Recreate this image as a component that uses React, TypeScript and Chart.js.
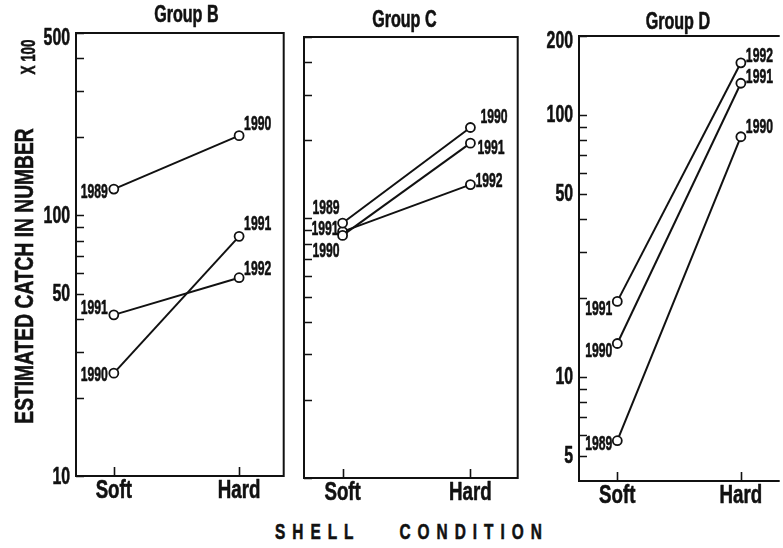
import React, { useEffect, useRef } from 'react';
import { Chart, registerables } from 'chart.js';

Chart.register(...registerables);

const FONT = "'Liberation Sans', Arial, 'DejaVu Sans Condensed', sans-serif";
const INK = '#111';

// ---------- data ----------
const xLabels = ['Soft', 'Hard'];
const panelTitles = ['Group B', 'Group C', 'Group D'];
const softYears = ['1989', '1990', '1991'];
const hardYears = ['1990', '1991', '1992'];

const groupBSoft = [126, 24.8, 41.5];
const groupBHard = [202, 83, 57.6];
const groupCSoft = [96, 86, 89];
const groupCHard = [224, 195, 135];
const groupDSoft = [5.7, 13.4, 19.4];
const groupDHard = [82.5, 132, 158];

const bcTickValues = [10, 20, 30, 40, 50, 60, 70, 80, 90, 100, 200, 300, 400, 500];
const bTickLabels = [10, 50, 100, 500];
const cTickLabels: number[] = [];
const dTickValues = [5, 6, 7, 8, 9, 10, 20, 30, 40, 50, 60, 70, 80, 90, 100, 200];
const dTickLabels = [5, 10, 50, 100, 200];

const yAxisTitle = 'ESTIMATED CATCH IN NUMBER';
const yUnit = 'X 100';
const xAxisTitle = 'SHELL CONDITION';

// ---------- layout / style ----------
type Off = [number, number];
interface PanelCfg {
  title: string;
  soft: number[];
  hard: number[];
  yMin: number;
  yMax: number;
  tickValues: number[];
  tickLabels: number[];
  xMin: number;
  xMax: number;
  left: number;
  w: number;
  h: number;
  axisW: number;
  padR: number;
  padTop: number;
  titleDx: number;
  titleY: number;
  boxRight: boolean;
  softOff: Off[];
  hardOff: Off[];
}

const panels: PanelCfg[] = [
  {
    title: panelTitles[0], soft: groupBSoft, hard: groupBHard,
    yMin: 10, yMax: 500, tickValues: bcTickValues, tickLabels: bTickLabels,
    xMin: -0.302, xMax: 1.356,
    left: 30, w: 260, h: 508, axisW: 46, padR: 5, padTop: 33,
    titleDx: 6.5, titleY: 16, boxRight: true,
    softOff: [[-6, 3], [-6, 2], [-6, -7]],
    hardOff: [[5, -11], [5, -12], [5, -9]],
  },
  {
    title: panelTitles[1], soft: groupCSoft, hard: groupCHard,
    yMin: 10, yMax: 500, tickValues: bcTickValues, tickLabels: cTickLabels,
    xMin: -0.302, xMax: 1.37,
    left: 296, w: 228, h: 510, axisW: 8, padR: 6, padTop: 37,
    titleDx: -6.5, titleY: 21, boxRight: true,
    softOff: [[-3, -15], [-3, 16], [-4, -2]],
    hardOff: [[10, -10], [7, 5], [5, -3]],
  },
  {
    title: panelTitles[2], soft: groupDSoft, hard: groupDHard,
    yMin: 4, yMax: 200, tickValues: dTickValues, tickLabels: dTickLabels,
    xMin: -0.31, xMax: 1.29,
    left: 533, w: 250, h: 513, axisW: 46, padR: 0, padTop: 36,
    titleDx: 0, titleY: 23, boxRight: false,
    softOff: [[-5, 3], [-5, 8], [-5, 8]],
    hardOff: [[5, -10], [5, -6], [5, -7]],
  },
];

function drawText(
  ctx: CanvasRenderingContext2D,
  text: string,
  x: number,
  y: number,
  size: number,
  sx: number,
  align: CanvasTextAlign,
  weight = 'bold'
) {
  ctx.save();
  ctx.translate(x, y);
  ctx.scale(sx, 1);
  ctx.font = `${weight} ${size}px ${FONT}`;
  ctx.textAlign = align;
  ctx.textBaseline = 'middle';
  ctx.fillStyle = INK;
  ctx.strokeStyle = INK;
  ctx.lineWidth = 0.6;
  ctx.lineJoin = 'round';
  ctx.fillText(text, 0, 0);
  ctx.strokeText(text, 0, 0);
  ctx.restore();
}

const framePlugin = {
  id: 'frameAndMarks',
  afterDraw(chart: any) {
    const cfg: PanelCfg = chart.options.plugins.frameAndMarks.cfg;
    const { ctx, chartArea: a } = chart;
    const ys = chart.scales.y;
    const xs = chart.scales.x;
    ctx.save();
    ctx.strokeStyle = INK;
    ctx.lineWidth = 2;
    ctx.lineCap = 'square';
    ctx.beginPath();
    if (cfg.boxRight) {
      ctx.rect(a.left, a.top, a.right - a.left, a.bottom - a.top);
    } else {
      ctx.moveTo(a.right + 2, a.top);
      ctx.lineTo(a.left, a.top);
      ctx.lineTo(a.left, a.bottom);
      ctx.lineTo(a.right + 2, a.bottom);
    }
    ctx.stroke();
    ctx.lineWidth = 1.6;
    ctx.lineCap = 'butt';
    ctx.beginPath();
    ys.ticks.forEach((t: any) => {
      const y = Math.round(ys.getPixelForValue(t.value)) + 0.5;
      ctx.moveTo(a.left, y);
      ctx.lineTo(a.left + 8, y);
    });
    xs.ticks.forEach((t: any) => {
      const x = Math.round(xs.getPixelForValue(t.value)) + 0.5;
      ctx.moveTo(x, a.bottom);
      ctx.lineTo(x, a.bottom - 9);
    });
    ctx.stroke();
    ctx.restore();

    // y tick labels
    ys.ticks.forEach((t: any) => {
      if (!cfg.tickLabels.includes(t.value)) return;
      const y = ys.getPixelForValue(t.value);
      drawText(ctx, String(t.value), a.left - 6, Math.max(y + 1, a.top + 5), 24, 0.66, 'right');
    });
    // x tick labels
    xs.ticks.forEach((t: any) => {
      const x = xs.getPixelForValue(t.value);
      drawText(ctx, xLabels[t.value], x, a.bottom + 15, 26, 0.72, 'center');
    });
    // panel title
    drawText(ctx, cfg.title, (a.left + a.right) / 2 + cfg.titleDx, cfg.titleY, 23, 0.7, 'center');

    // year labels
    chart.data.datasets.forEach((_ds: any, i: number) => {
      const meta = chart.getDatasetMeta(i);
      const p0 = meta.data[0];
      const p1 = meta.data[1];
      const so = cfg.softOff[i];
      const ho = cfg.hardOff[i];
      drawText(ctx, softYears[i], p0.x + so[0], p0.y + so[1], 21, 0.58, 'right');
      drawText(ctx, hardYears[i], p1.x + ho[0], p1.y + ho[1], 21, 0.58, 'left');
    });
  },
};

function PanelChart({ cfg }: { cfg: PanelCfg }) {
  const ref = useRef<HTMLCanvasElement>(null);
  useEffect(() => {
    if (!ref.current) return;
    const datasets = cfg.soft.map((s, i) => ({
      label: `${softYears[i]}-${hardYears[i]}`,
      data: [
        { x: 0, y: s },
        { x: 1, y: cfg.hard[i] },
      ],
      borderColor: INK,
      borderWidth: 2,
      pointRadius: 4.5,
      pointBackgroundColor: '#fff',
      pointBorderColor: INK,
      pointBorderWidth: 1.8,
      tension: 0,
      fill: false,
    }));
    const chart = new Chart(ref.current, {
      type: 'line',
      data: { datasets },
      plugins: [framePlugin],
      options: {
        animation: false,
        responsive: false,
        devicePixelRatio: 1,
        events: [],
        layout: { padding: { left: 0, right: cfg.padR, top: cfg.padTop, bottom: 0 } },
        plugins: {
          legend: { display: false },
          tooltip: { enabled: false },
          title: { display: false },
          frameAndMarks: { cfg },
        } as any,
        scales: {
          x: {
            type: 'linear',
            min: cfg.xMin,
            max: cfg.xMax,
            grid: { display: false },
            border: { display: false },
            afterBuildTicks: (scale: any) => {
              scale.ticks = xLabels.map((_l, i) => ({ value: i }));
            },
            afterFit: (scale: any) => {
              scale.height = 32;
            },
            ticks: { display: false, autoSkip: false },
          },
          y: {
            type: 'logarithmic',
            min: cfg.yMin,
            max: cfg.yMax,
            grid: { display: false },
            border: { display: false },
            afterBuildTicks: (scale: any) => {
              scale.ticks = cfg.tickValues.map((v) => ({ value: v }));
            },
            afterFit: (scale: any) => {
              scale.width = cfg.axisW;
            },
            ticks: { display: false, autoSkip: false },
          },
        },
      } as any,
    });
    return () => chart.destroy();
  }, [cfg]);
  return (
    <canvas
      ref={ref}
      width={cfg.w}
      height={cfg.h}
      style={{ position: 'absolute', left: cfg.left, top: 0, width: cfg.w, height: cfg.h }}
    />
  );
}

const heavy = { WebkitTextStroke: '0.6px #111' } as React.CSSProperties;

export default function App() {
  return (
    <div
      style={{
        position: 'fixed',
        left: 0,
        top: 0,
        width: 783,
        height: 548,
        overflow: 'hidden',
        background: '#fff',
        fontFamily: FONT,
        fontWeight: 'bold',
        color: INK,
      }}
    >
      {panels.map((p) => (
        <PanelChart key={p.title} cfg={p} />
      ))}
      <div
        style={{
          ...heavy,
          position: 'absolute',
          left: 24,
          top: 276,
          transform: 'translate(-50%, -50%) rotate(-90deg) scaleX(0.74)',
          whiteSpace: 'nowrap',
          fontSize: 26,
          lineHeight: 1,
        }}
      >
        {yAxisTitle}
      </div>
      <div
        style={{
          ...heavy,
          position: 'absolute',
          left: 27,
          top: 57,
          transform: 'translate(-50%, -50%) rotate(-90deg) scaleX(0.64)',
          whiteSpace: 'nowrap',
          fontSize: 21,
          lineHeight: 1,
        }}
      >
        {yUnit}
      </div>
      <div
        style={{
          ...heavy,
          position: 'absolute',
          left: 275,
          top: 532,
          transform: 'translateY(-50%) scaleX(0.7)',
          transformOrigin: 'left center',
          whiteSpace: 'nowrap',
          fontSize: 22,
          letterSpacing: 10,
          wordSpacing: 40,
          lineHeight: 1,
        }}
      >
        {xAxisTitle}
      </div>
    </div>
  );
}
